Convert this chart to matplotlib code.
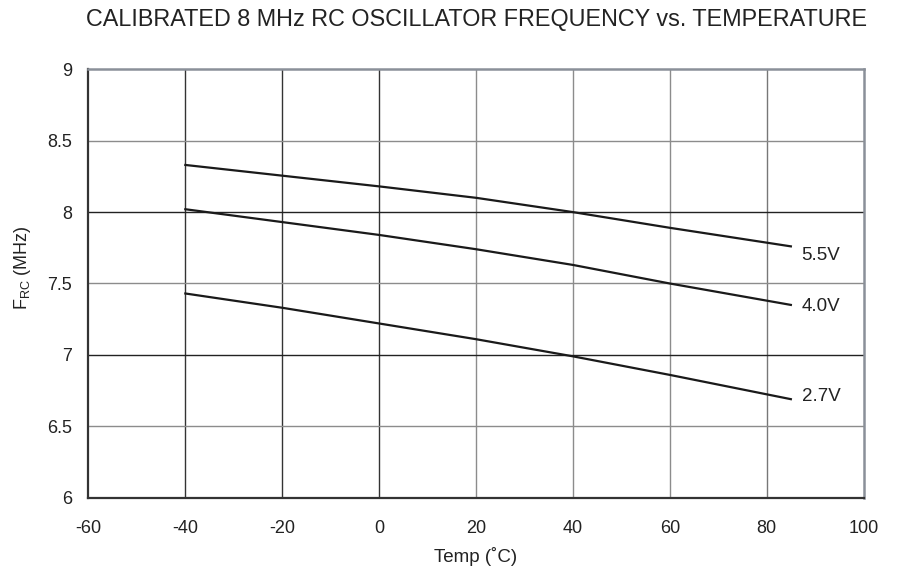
"""
Calibrated 8 MHz RC oscillator frequency vs. temperature.
"""
import matplotlib.pyplot as plt

plt.rcParams['font.family'] = ['Liberation Sans', 'DejaVu Sans']
plt.rcParams['axes.unicode_minus'] = False

# data
temps = [-40, -20, 0, 20, 40, 60, 85]
f_55 = [8.33, 8.255, 8.18, 8.10, 8.00, 7.89, 7.76]
f_40 = [8.02, 7.93, 7.84, 7.74, 7.63, 7.50, 7.35]
f_27 = [7.43, 7.33, 7.22, 7.11, 6.99, 6.86, 6.69]
series = [("5.5V", f_55, 7.695), ("4.0V", f_40, 7.34), ("2.7V", f_27, 6.71)]

x_ticks = [-60, -40, -20, 0, 20, 40, 60, 80, 100]
y_ticks = [6, 6.5, 7, 7.5, 8, 8.5, 9]

fig = plt.figure(figsize=(9.01, 5.73), dpi=100)
ax = fig.add_axes([0.0982, 0.1314, 0.8602, 0.7477])

# grid: darker lines on the left / integer values, lighter elsewhere
for x in x_ticks[1:-1]:
    c = "#333333" if x <= 0 else ("#777777" if x == 80 else "#8c8c8c")
    ax.axvline(x, color=c, lw=1.0, zorder=1)
for y in y_ticks[1:-1]:
    c = "#222222" if y in (7, 8) else "#8c8c8c"
    ax.axhline(y, color=c, lw=1.0, zorder=1)

for name, vals, ylab in series:
    ax.plot(temps, vals, color="#1a1a1a", lw=1.6, zorder=3)
    ax.text(87.2, ylab, name, fontsize=13.5, va="center", ha="left", color="#222222")

ax.set_xlim(-60, 100)
ax.set_ylim(6, 9)
ax.set_xticks(x_ticks)
ax.set_yticks(y_ticks)
ax.set_yticklabels(["6", "6.5", "7", "7.5", "8", "8.5", "9"])
ax.tick_params(length=0, labelsize=13, colors="#222222")
ax.tick_params(axis="x", pad=16)
ax.tick_params(axis="y", pad=12)

for side in ("left", "bottom"):
    ax.spines[side].set_color("#333333")
    ax.spines[side].set_linewidth(1.6)
for side in ("top", "right"):
    ax.spines[side].set_color("#8a9099")
    ax.spines[side].set_linewidth(1.8)

ax.set_xlabel("Temp (˚C)", fontsize=13.5, color="#222222")
ax.set_ylabel(r"F$_{\mathregular{RC}}$ (MHz)", fontsize=13, color="#222222")
ax.xaxis.set_label_coords(0.4994, -0.114)
ax.yaxis.set_label_coords(-0.0716, 0.536)

fig.text(0.529, 0.966, "CALIBRATED 8 MHz RC OSCILLATOR FREQUENCY vs. TEMPERATURE",
         ha="center", va="center", fontsize=16.8, color="#222222")

plt.savefig("out.png", dpi=100)
plt.close()
